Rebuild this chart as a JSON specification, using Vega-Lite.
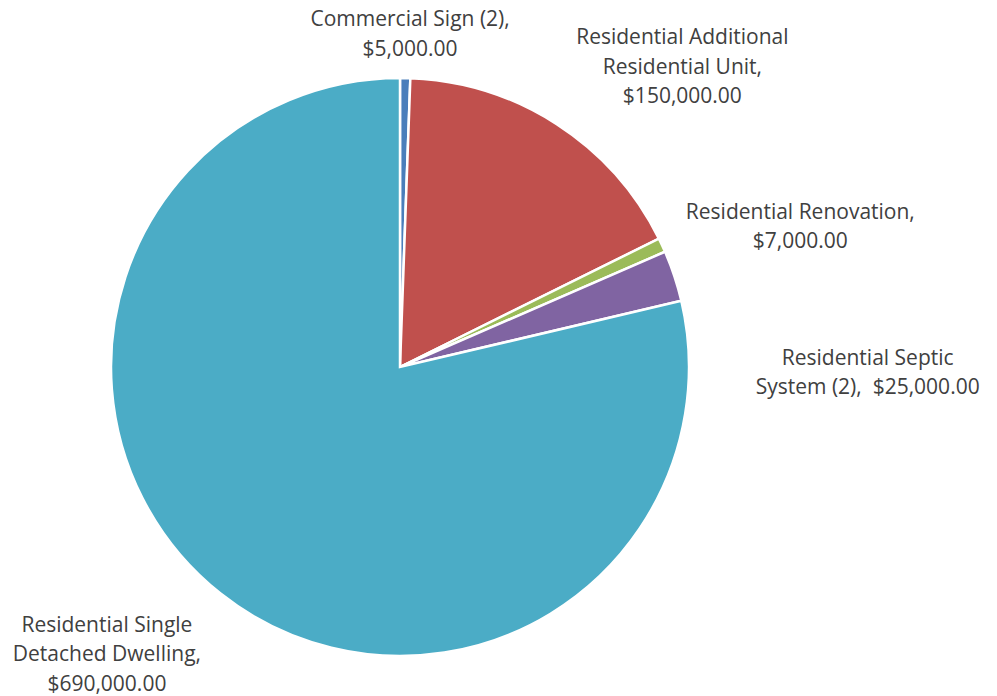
{
  "$schema": "https://vega.github.io/schema/vega-lite/v6.json",
  "width": 997,
  "height": 696,
  "autosize": "none",
  "padding": 0,
  "background": "white",
  "view": {"stroke": null},
  "config": {"text": {"font": "Open Sans", "fontSize": 21, "lineHeight": 29.5, "color": "#404040", "baseline": "middle", "align": "center"}},
  "data": {
    "values": [
      {"category": "Commercial Sign (2)", "value": 5000, "label": ["Commercial Sign (2),", "$5,000.00"]},
      {"category": "Residential Additional Residential Unit", "value": 150000, "label": ["Residential Additional", "Residential Unit,", "$150,000.00"]},
      {"category": "Residential Renovation", "value": 7000, "label": ["Residential Renovation,", "$7,000.00"]},
      {"category": "Residential Septic System (2)", "value": 25000, "label": ["Residential Septic", "System (2),\u00a0 $25,000.00"]},
      {"category": "Residential Single Detached Dwelling", "value": 690000, "label": ["Residential Single", "Detached Dwelling,", "$690,000.00"]}
    ]
  },
  "encoding": {
    "theta": {"field": "value", "type": "quantitative", "stack": true},
    "detail": {"field": "category", "type": "nominal"}
  },
  "layer": [
    {
      "mark": {"type": "arc", "x": 400, "y": 367, "outerRadius": 289, "stroke": "white", "strokeWidth": 2.5},
      "encoding": {
        "color": {
          "field": "category", "type": "nominal", "legend": null,
          "scale": {
            "domain": ["Commercial Sign (2)", "Residential Additional Residential Unit", "Residential Renovation", "Residential Septic System (2)", "Residential Single Detached Dwelling"],
            "range": ["#4A7EBB", "#C0504D", "#9BBB59", "#8064A2", "#4BACC6"]
          }
        }
      }
    },
    {
      "mark": {"type": "text", "x": 400, "y": 367, "radius": 340, "dx": 4, "dy": -7},
      "encoding": {"text": {"condition": {"test": "datum.category === 'Commercial Sign (2)'", "field": "label"}, "value": ""}}
    },
    {
      "mark": {"type": "text", "x": 400, "y": 367, "radius": 340, "dx": 98, "dy": -43},
      "encoding": {"text": {"condition": {"test": "datum.category === 'Residential Additional Residential Unit'", "field": "label"}, "value": ""}}
    },
    {
      "mark": {"type": "text", "x": 400, "y": 367, "radius": 340, "dx": 92, "dy": -11},
      "encoding": {"text": {"condition": {"test": "datum.category === 'Residential Renovation'", "field": "label"}, "value": ""}}
    },
    {
      "mark": {"type": "text", "x": 400, "y": 367, "radius": 340, "dx": 145, "dy": 99},
      "encoding": {"text": {"condition": {"test": "datum.category === 'Residential Septic System (2)'", "field": "label"}, "value": ""}}
    },
    {
      "mark": {"type": "text", "x": 400, "y": 367, "radius": 340, "dx": -82, "dy": -8},
      "encoding": {"text": {"condition": {"test": "datum.category === 'Residential Single Detached Dwelling'", "field": "label"}, "value": ""}}
    }
  ]
}
